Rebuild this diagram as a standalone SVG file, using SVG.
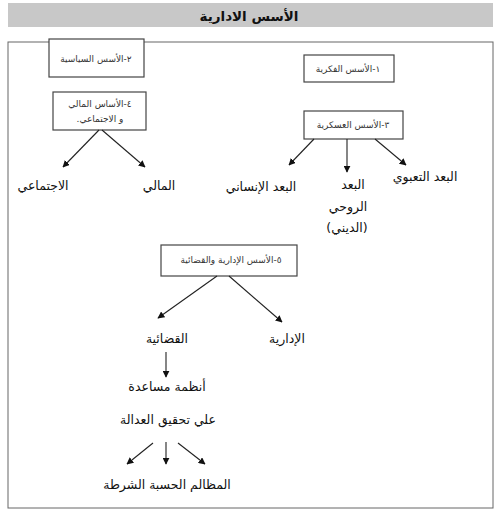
<svg xmlns="http://www.w3.org/2000/svg" width="499" height="524" viewBox="0 0 499 524">
<style>
text{font-family:"DejaVu Sans","Liberation Sans",sans-serif;direction:rtl;text-anchor:middle;fill:#111}
.box{fill:#fff;stroke:#444;stroke-width:1.2}
.bt{font-size:9px;fill:#333}
.lb{font-size:12.5px}
.title{font-size:13.5px;font-weight:bold}
.con line{stroke:#222;stroke-width:1.1;marker-end:url(#ah)}
</style>
<defs>
<marker id="ah" viewBox="0 0 10 10" refX="9" refY="5" markerWidth="7" markerHeight="7" orient="auto" markerUnits="userSpaceOnUse">
<path d="M0,0 L10,5 L0,10 z" fill="#111"/>
</marker>
</defs>
<rect width="499" height="524" fill="#fff"/>
<g id="title">
<rect x="8" y="3" width="485" height="24" fill="#c8c8c8"/>
<text class="title" x="249" y="21">الأسس الادارية</text>
</g>
<rect id="frame" x="8" y="42" width="485" height="466" fill="none" stroke="#666" stroke-width="1"/>
<g id="n2"><rect class="box" x="49" y="39" width="95" height="38"/><text class="bt" x="96" y="62">٢-الأسس السياسية</text></g>
<g id="n4"><rect class="box" x="53" y="92" width="93" height="38"/><text class="bt" x="100" y="107">٤-الأساس المالي</text><text class="bt" x="100" y="122">و الاجتماعي.</text></g>
<g id="n1"><rect class="box" x="304" y="55" width="90" height="27"/><text class="bt" x="348" y="72">١-الأسس الفكرية</text></g>
<g id="n3"><rect class="box" x="304" y="111" width="99" height="28"/><text class="bt" x="353" y="128">٣-الأسس العسكرية</text></g>
<g id="n5"><rect class="box" x="161" y="245" width="136" height="31"/><text class="bt" x="231" y="263">٥-الأسس الإدارية والقضائية</text></g>
<g id="l-ijt"><text class="lb" x="43" y="190">الاجتماعي</text></g>
<g id="l-mali"><text class="lb" x="159" y="190">المالي</text></g>
<g id="l-insani"><text class="lb" x="261" y="191">البعد الإنساني</text></g>
<g id="l-ruhi"><text class="lb" x="353" y="189">البعد</text><text class="lb" x="348" y="211">الروحي</text><text class="lb" x="347" y="232">(الديني)</text></g>
<g id="l-taab"><text class="lb" x="425" y="181">البعد التعبوي</text></g>
<g id="l-idar"><text class="lb" x="287" y="343">الإدارية</text></g>
<g id="l-qada"><text class="lb" x="167" y="343">القضائية</text></g>
<g id="l-anz"><text class="lb" x="167" y="391">أنظمة مساعدة</text></g>
<g id="l-ala"><text class="lb" x="168" y="424">علي تحقيق العدالة</text></g>
<g id="l-bottom"><text class="lb" x="167" y="489">المظالم الحسبة  الشرطة</text></g>
<g id="connectors" class="con">
<line x1="99" y1="130" x2="63" y2="167"/>
<line x1="102" y1="130" x2="145" y2="167"/>
<line x1="314" y1="139" x2="289" y2="165"/>
<line x1="347" y1="139" x2="347" y2="172"/>
<line x1="375" y1="139" x2="406" y2="165"/>
<line x1="217" y1="276" x2="158" y2="318"/>
<line x1="229" y1="276" x2="282" y2="322"/>
<line x1="166" y1="352" x2="166" y2="377"/>
<line x1="153" y1="443" x2="127" y2="464"/>
<line x1="166" y1="442" x2="166" y2="464"/>
<line x1="178" y1="443" x2="205" y2="464"/>
</g>
</svg>
